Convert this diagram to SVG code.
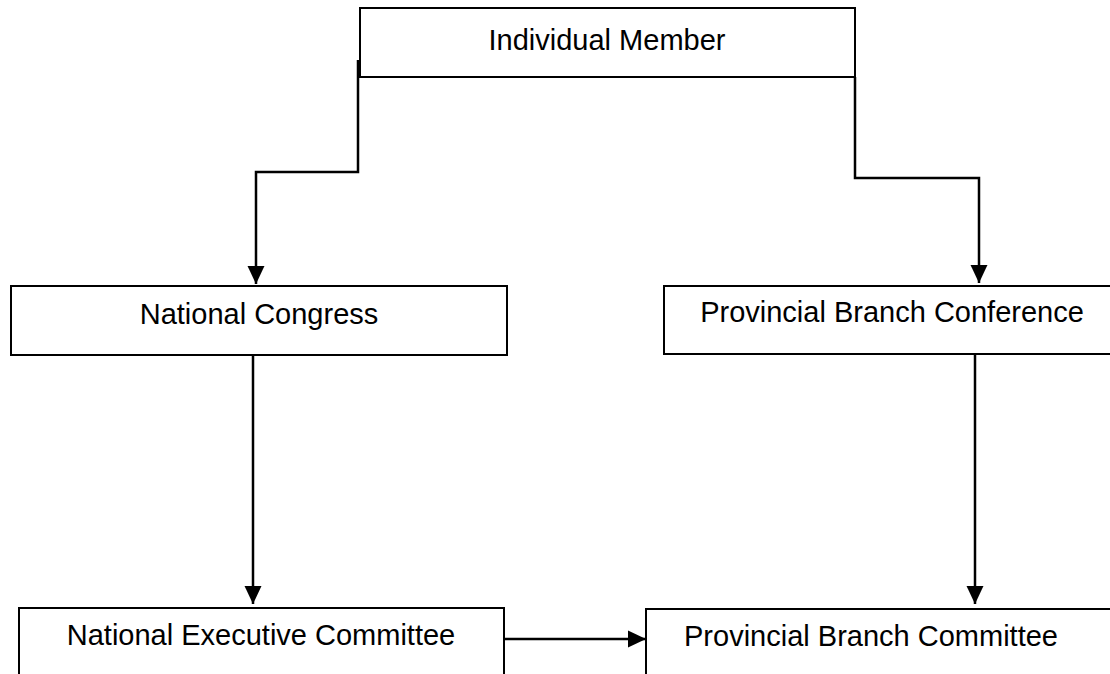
<svg xmlns="http://www.w3.org/2000/svg" width="1110" height="674" viewBox="0 0 1110 674">
<style>
.box{fill:#fff;stroke:#000;stroke-width:2}
.lbl{font-family:"Liberation Sans",Arial,sans-serif;font-size:29px;fill:#000;text-anchor:middle}
.conn{fill:none;stroke:#000;stroke-width:2.5}
</style>
<defs>
<marker id="arr" markerUnits="userSpaceOnUse" markerWidth="18" markerHeight="18" viewBox="0 0 17 16" refX="17" refY="8" orient="auto">
<path d="M0,0 L17,8 L0,16 Z" fill="#000"/>
</marker>
</defs>
<rect width="1110" height="674" fill="#fff"/>
<g id="individual-member">
<rect class="box" x="360" y="8" width="495" height="69"/>
<text class="lbl" x="607" y="50">Individual Member</text>
</g>
<g id="national-congress">
<rect class="box" x="11" y="286" width="496" height="69"/>
<text class="lbl" x="259" y="324">National Congress</text>
</g>
<g id="provincial-branch-conference">
<rect class="box" x="664" y="286" width="460" height="68"/>
<text class="lbl" x="892" y="322">Provincial Branch Conference</text>
</g>
<g id="national-executive-committee">
<rect class="box" x="19" y="608" width="485" height="80"/>
<text class="lbl" x="261" y="645">National Executive Committee</text>
</g>
<g id="provincial-branch-committee">
<rect class="box" x="646" y="609" width="480" height="80"/>
<text class="lbl" x="871" y="646">Provincial Branch Committee</text>
</g>
<g id="connectors">
<path class="conn" d="M358,60 V172 H256 V284" marker-end="url(#arr)"/>
<path class="conn" d="M855,77 V178 H979 V283" marker-end="url(#arr)"/>
<path class="conn" d="M253,355 V604" marker-end="url(#arr)"/>
<path class="conn" d="M975,354 V604" marker-end="url(#arr)"/>
<path class="conn" d="M505,639 H646" marker-end="url(#arr)"/>
</g>
</svg>
